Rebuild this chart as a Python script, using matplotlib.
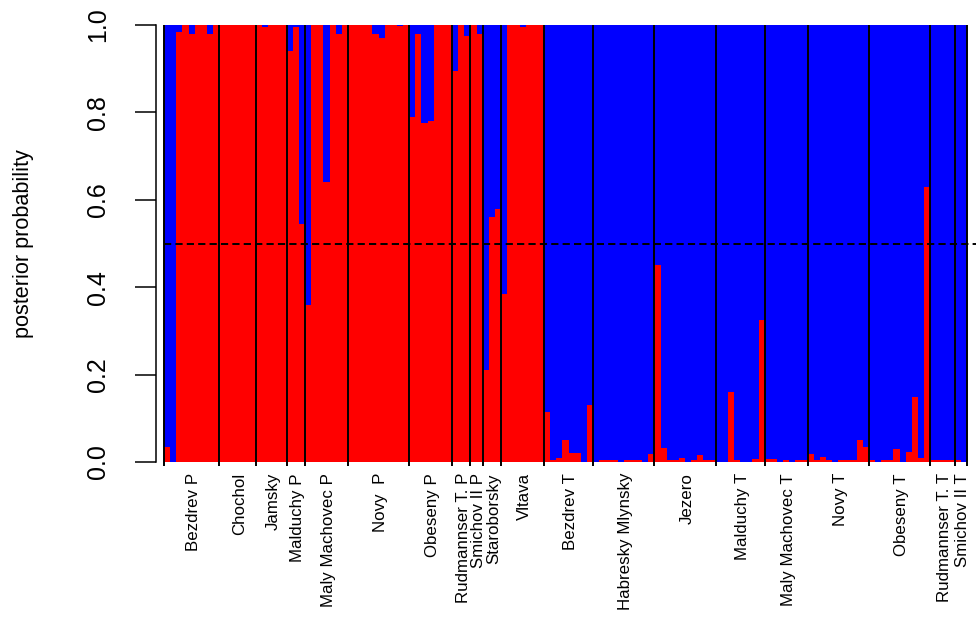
import numpy as np
import matplotlib
matplotlib.use("Agg")
import matplotlib.pyplot as plt

plt.rcParams['font.family'] = ['Liberation Sans', 'DejaVu Sans']
plt.rcParams['lines.scale_dashes'] = False

# posterior probability of the "P" cluster for each individual, grouped by population
groups = ["Bezdrev P", "Chochol", "Jamsky", "Malduchy P", "Maly Machovec P", "Novy  P",
          "Obeseny P", "Rudmannser T. P", "Smichov II P", "Staroborsky", "Vltava",
          "Bezdrev T", "Habresky Mlynsky", "Jezero", "Malduchy T", "Maly Machovec T",
          "Novy T", "Obeseny T", "Rudmannser T. T", "Smichov II T"]

bezdrev_p = [0.035, 0.0, 0.985, 1.0, 0.98, 1.0, 1.0, 0.98, 1.0]
chochol = [1.0, 1.0, 1.0, 1.0, 1.0, 1.0]
jamsky = [1.0, 0.995, 1.0, 1.0, 1.0]
malduchy_p = [0.94, 0.995, 0.545]
maly_machovec_p = [0.36, 1.0, 1.0, 0.64, 1.0, 0.98, 1.0]
novy_p = [1.0, 1.0, 1.0, 1.0, 0.98, 0.97, 1.0, 1.0, 0.997, 1.0]
obeseny_p = [0.79, 0.98, 0.775, 0.78, 1.0, 1.0, 1.0]
rudmannser_p = [0.895, 1.0, 0.975]
smichov_p = [1.0, 0.98]
staroborsky = [0.21, 0.56, 0.58]
vltava = [0.385, 1.0, 1.0, 0.995, 1.0, 1.0, 1.0]

bezdrev_t = [0.115, 0.005, 0.01, 0.05, 0.02, 0.02, 0.0, 0.13]
habresky = [0.0, 0.004, 0.004, 0.004, 0.0, 0.004, 0.004, 0.004, 0.0, 0.018]
jezero = [0.45, 0.033, 0.005, 0.005, 0.01, 0.0, 0.004, 0.017, 0.004, 0.004]
malduchy_t = [0.0, 0.0, 0.16, 0.004, 0.0, 0.0, 0.008, 0.325]
maly_machovec_t = [0.008, 0.008, 0.0, 0.004, 0.0, 0.004, 0.004]
novy_t = [0.018, 0.004, 0.012, 0.004, 0.0, 0.004, 0.004, 0.004, 0.05, 0.035]
obeseny_t = [0.004, 0.0, 0.004, 0.004, 0.03, 0.0, 0.022, 0.148, 0.01, 0.63]
rudmannser_t = [0.004, 0.004, 0.004, 0.004]
smichov_t = [0.004, 0.0]

pops = [bezdrev_p, chochol, jamsky, malduchy_p, maly_machovec_p, novy_p, obeseny_p,
        rudmannser_p, smichov_p, staroborsky, vltava,
        bezdrev_t, habresky, jezero, malduchy_t, maly_machovec_t, novy_t, obeseny_t,
        rudmannser_t, smichov_t]

prob = np.concatenate([np.array(p) for p in pops])
n = len(prob)
x = np.arange(n)
sizes = np.array([len(p) for p in pops])
bounds = np.concatenate([[0], np.cumsum(sizes)])
mids = (bounds[:-1] + bounds[1:]) / 2

fig = plt.figure(figsize=(9.76, 6.17), dpi=100)
W, H = 976.0, 617.0
left, right, top, bottom = 164, 976, 25, 462
ax = fig.add_axes([left / W, (H - bottom) / H, (right - left) / W, (bottom - top) / H])

ax.bar(x, prob, width=1, align='edge', color='#ff0000', linewidth=0)
ax.bar(x, 1 - prob, bottom=prob, width=1, align='edge', color='#0000ff', linewidth=0)

px = n / 803.0  # bar units per pixel
ax.set_xlim(0, n + (right - 967) * px)
ax.set_ylim(0, 1)

# population separators, running a little below the baseline
ax.vlines(bounds, -4 / 437.0, 1, colors='black', linewidth=1.4, clip_on=False)
ax.axhline(0.5, color='black', linewidth=1.4, dashes=(5.2, 3.0))

for m, g in zip(mids, groups):
    ax.text(m + 0.3, -11 / 437.0, g, rotation=90, ha='center', va='top', fontsize=12.2)

for s in ['top', 'right', 'bottom']:
    ax.spines[s].set_visible(False)
ax.spines['left'].set_position(('outward', 6.1))
ax.spines['left'].set_bounds(0, 1)
ax.spines['left'].set_linewidth(1.1)
ax.set_xticks([])
ax.set_yticks([0, 0.2, 0.4, 0.6, 0.8, 1.0])
ax.set_yticklabels(["0.0", "0.2", "0.4", "0.6", "0.8", "1.0"], rotation=90, va='center')
ax.tick_params(axis='y', length=15, width=1.1, pad=18, labelsize=18)
ax.set_ylabel("posterior probability", fontsize=15.6)
ax.yaxis.set_label_coords((34 - left) / (right - left), 0.5)

fig.savefig("out.png", dpi=100)
